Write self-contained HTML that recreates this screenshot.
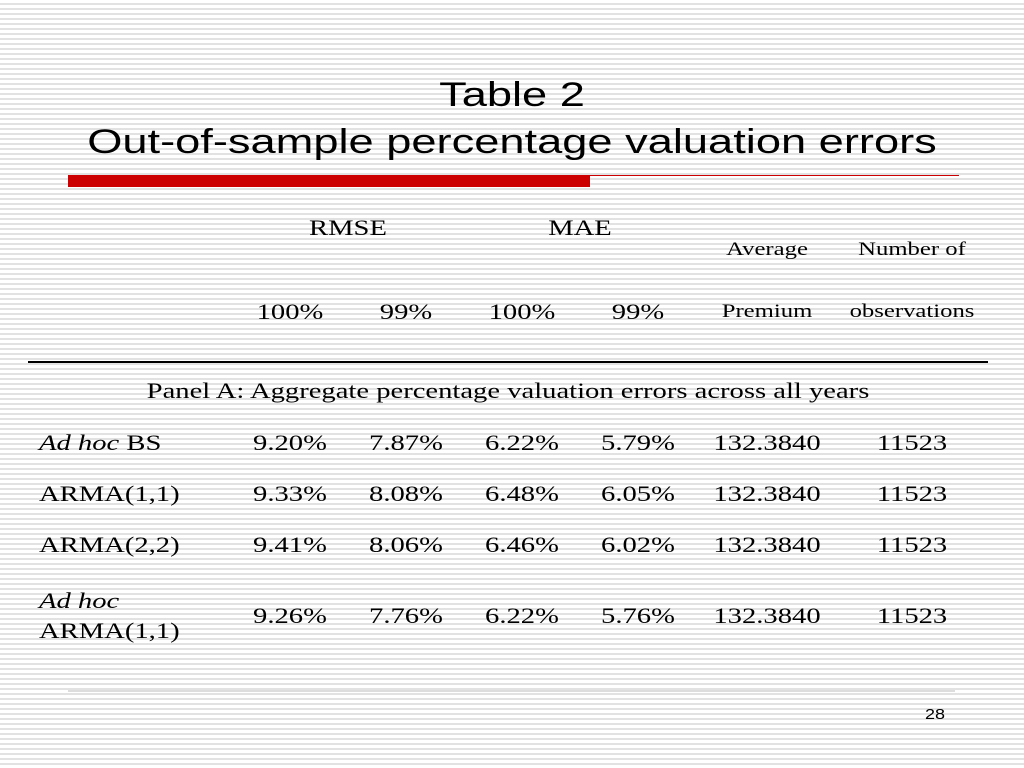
<!DOCTYPE html>
<html><head><meta charset="utf-8"><style>
body{margin:0;width:1024px;height:768px;overflow:hidden;position:relative;font-family:"Liberation Serif",serif;
background:repeating-linear-gradient(to bottom,#fff 0,#fff 3px,#e2e2e2 3px,#e2e2e2 5px);}
.t{position:absolute;font-size:22px;color:#000;white-space:nowrap;transform:scaleX(1.3);transform-origin:left center}
.c{transform:translateX(-50%) scaleX(1.3);transform-origin:center center}
.s{font-size:19px}
.h{position:absolute;font-family:"Liberation Sans",sans-serif;font-size:34px;left:0;width:1024px;text-align:center;transform:scaleX(1.33);transform-origin:512px 0}
</style></head><body>
<div class="h" style="top:76px">Table 2</div>
<div class="h" style="top:123px">Out-of-sample percentage valuation errors</div>
<div style="position:absolute;left:68px;top:175px;width:522px;height:12px;background:#cc0000"></div>
<div style="position:absolute;left:590px;top:175px;width:369px;height:1px;background:#cc0000"></div>
<div style="position:absolute;left:28px;top:361px;width:960px;height:2px;background:#000"></div>
<div style="position:absolute;left:68px;top:690px;width:887px;height:2px;background:#ddd"></div>
<div class="t" style="left:925px;top:706px;font-family:'Liberation Sans',sans-serif;font-size:15px;transform:scaleX(1.2)">28</div>

<div class="t c" style="left:348px;top:215px">RMSE</div>
<div class="t c" style="left:580px;top:215px">MAE</div>
<div class="t c s" style="left:767px;top:239px">Average</div>
<div class="t c s" style="left:912px;top:239px">Number of</div>
<div class="t c" style="left:290px;top:299px">100%</div>
<div class="t c" style="left:406px;top:299px">99%</div>
<div class="t c" style="left:522px;top:299px">100%</div>
<div class="t c" style="left:638px;top:299px">99%</div>
<div class="t c s" style="left:767px;top:301px">Premium</div>
<div class="t c s" style="left:912px;top:301px">observations</div>
<div class="t c" style="left:508px;top:378px">Panel A: Aggregate percentage valuation errors across all years</div>

<div id="rows"></div>
<script>
const rowLabels=["<i>Ad hoc</i> BS","ARMA(1,1)","ARMA(2,2)","<i>Ad hoc</i><br>ARMA(1,1)"];
const rmse100=["9.20%","9.33%","9.41%","9.26%"];
const rmse99=["7.87%","8.08%","8.06%","7.76%"];
const mae100=["6.22%","6.48%","6.46%","6.22%"];
const mae99=["5.79%","6.05%","6.02%","5.76%"];
const premium=["132.3840","132.3840","132.3840","132.3840"];
const nobs=["11523","11523","11523","11523"];
const rowY=[430,481,532,603];
const colX=[290,406,522,638,767,912];
const host=document.getElementById('rows');
for(let i=0;i<rowLabels.length;i++){
  const l=document.createElement('div');
  l.className='t';
  l.style.left='39px';
  l.style.top=(i===3?586:rowY[i])+'px';
  l.style.lineHeight=i===3?'30px':'normal';
  l.innerHTML=rowLabels[i];
  
  
  host.appendChild(l);
  const vals=[rmse100[i],rmse99[i],mae100[i],mae99[i],premium[i],nobs[i]];
  vals.forEach((v,j)=>{
    const d=document.createElement('div');
    d.className='t c';
    d.style.left=colX[j]+'px';
    d.style.top=rowY[i]+'px';
    d.textContent=v;
    
    
    host.appendChild(d);
  });
}
</script>
</body></html>
